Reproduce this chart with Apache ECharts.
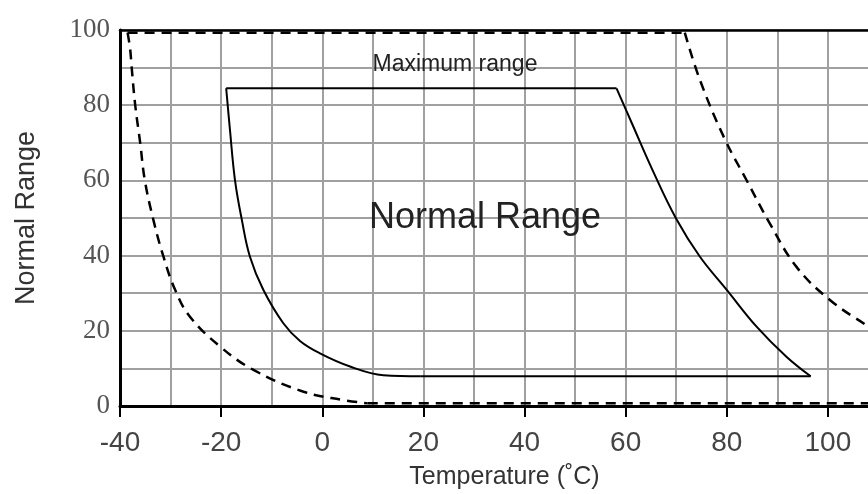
<!DOCTYPE html>
<html><head><meta charset="utf-8">
<script src="https://cdn.jsdelivr.net/npm/echarts@6/dist/echarts.min.js"></script>
<style>html,body{margin:0;padding:0;background:#fff;overflow:hidden}#c{width:868px;height:494px}</style>
</head><body><div id="c"></div>
<script>
const xTickLabels = [-40, -20, 0, 20, 40, 60, 80, 100];
const yTickLabels = [0, 20, 40, 60, 80, 100];

const maxTop = [[-38.5, 99.3], [71.7, 99.3]];
const maxBottom = [[9, 0.7], [120, 0.7]];
const maxLeftCurve = [[-38.5, 99.3], [-38.0, 95], [-37.7, 90.2], [-37.0, 80.1], [-36.0, 69.9], [-35.1, 60.1], [-33.4, 49.5], [-31.4, 39.7], [-29.1, 30.9], [-26.2, 23.8], [-20.2, 15.8], [-13.6, 9.6], [-3.7, 3.8], [4.1, 1.6], [9, 0.7]];
const maxRightCurve = [[71.7, 99.3], [74.7, 86.7], [79.5, 71.3], [83.9, 60.1], [88.5, 48.6], [93.8, 37.0], [100.4, 28.2], [107.6, 21.5], [112, 17.8]];

const normTop = [[-19.0, 84.5], [58.2, 84.5]];
const normBottom = [[19.5, 7.9], [96.6, 7.9]];
const normLeftCurve = [[-19.0, 84.5], [-18.25, 73.4], [-17.26, 60.1], [-15.9, 49.5], [-14.3, 39.7], [-11.66, 30.9], [-7.7, 22.0], [-4.4, 17.3], [-0.45, 14.0], [5.5, 10.5], [12.1, 8.2], [19.5, 7.9]];
const normRightCurve = [[58.2, 84.5], [61.3, 75.0], [65.3, 62.8], [70.0, 49.8], [74.7, 39.7], [80.0, 30.9], [85.9, 21.1], [91.8, 13.1], [96.6, 7.9]];

const xTitle = 'Temperature (˚C)';
const yTitle = 'Normal Range';
const maxLabel = 'Maximum range';
const normLabel = 'Normal Range';

const gridColor = '#a0a0a0';
const dashed = { color: '#000', width: 2.5, type: [10, 7] };
const solid = { color: '#000', width: 2 };

function lineSeries(data, style, smooth) {
  return { type: 'line', data: data, symbol: 'none', smooth: smooth ? 0.4 : false, lineStyle: style, z: 5, silent: true };
}

const chart = echarts.init(document.getElementById('c'), null, { renderer: 'canvas' });
chart.setOption({
  animation: false,
  backgroundColor: '#fff',
  grid: { left: 120, top: 30, bottom: 88, right: -61, containLabel: false, outerBoundsMode: 'none' },
  xAxis: [{
    type: 'value', min: -40, max: 120, interval: 20, position: 'bottom',
    axisLine: { show: true, onZero: false, lineStyle: { color: '#000', width: 3 } },
    axisTick: { show: true, length: 11, lineStyle: { color: '#000', width: 2 } },
    axisLabel: { margin: 23, fontFamily: 'Liberation Sans', fontSize: 28, color: '#444',
      formatter: v => xTickLabels.includes(v) ? String(v) : '' },
    splitLine: { show: true, lineStyle: { color: gridColor, width: 2 } },
    minorTick: { show: false, splitNumber: 2 },
    minorSplitLine: { show: true, lineStyle: { color: gridColor, width: 2 } },
    name: xTitle, nameLocation: 'middle', nameGap: 59,
    nameTextStyle: { fontFamily: 'Liberation Sans', fontSize: 25, color: '#333', padding: [0, 40, 0, 0] }
  }, {
    type: 'value', min: -40, max: 120, position: 'top',
    axisLine: { show: true, onZero: false, lineStyle: { color: '#000', width: 2.5 } },
    axisTick: { show: false }, axisLabel: { show: false }, splitLine: { show: false }
  }],
  yAxis: {
    type: 'value', min: 0, max: 100, interval: 20,
    axisLine: { show: true, onZero: false, lineStyle: { color: '#000', width: 3 } },
    axisTick: { show: false },
    axisLabel: { margin: 10, fontFamily: 'Liberation Serif', fontSize: 27, color: '#555', padding: [0, 0, 10, 0],
      formatter: v => yTickLabels.includes(v) ? String(v) : '' },
    splitLine: { show: true, lineStyle: { color: gridColor, width: 2 } },
    minorTick: { show: false, splitNumber: 2 },
    minorSplitLine: { show: true, lineStyle: { color: gridColor, width: 2 } },
    name: yTitle, nameLocation: 'middle', nameGap: 80,
    nameTextStyle: { fontFamily: 'Liberation Sans', fontSize: 27, color: '#333' }
  },
  series: [
    lineSeries(maxTop, dashed, false),
    lineSeries(maxBottom, dashed, false),
    lineSeries(maxLeftCurve, dashed, true),
    lineSeries(maxRightCurve, dashed, true),
    lineSeries(normTop, solid, false),
    lineSeries(normBottom, solid, false),
    lineSeries(normLeftCurve, solid, true),
    lineSeries(normRightCurve, solid, true)
  ],
  graphic: [
    { type: 'text', x: 455, y: 65, z: 10, style: { text: maxLabel, font: '23px "Liberation Sans"', fill: '#222', align: 'center', verticalAlign: 'middle' } },
    { type: 'text', x: 485, y: 218, z: 10, style: { text: normLabel, font: '36px "Liberation Sans"', fill: '#222', align: 'center', verticalAlign: 'middle' } }
  ]
});
</script></body></html>
